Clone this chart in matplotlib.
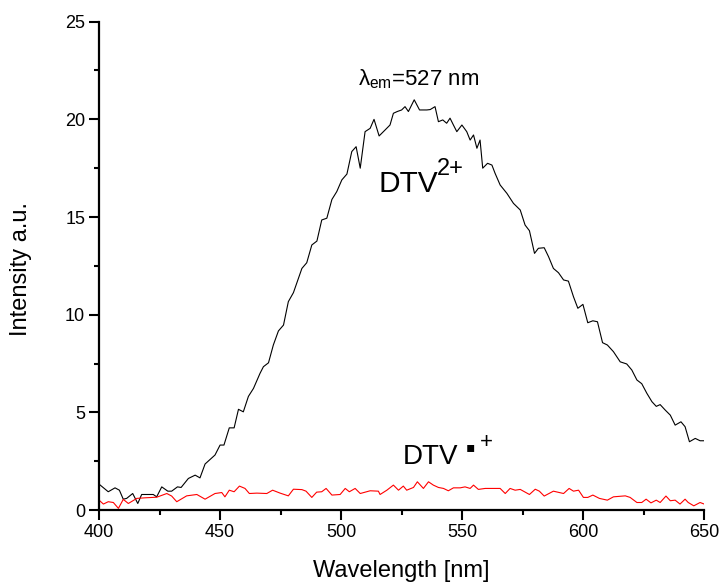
import matplotlib
matplotlib.use("Agg")
import matplotlib.pyplot as plt
from matplotlib.ticker import MultipleLocator

plt.rcParams['font.family'] = ['Liberation Sans', 'DejaVu Sans']
plt.rcParams['mathtext.fontset'] = 'custom'
plt.rcParams['mathtext.rm'] = 'Liberation Sans'
plt.rcParams['mathtext.it'] = 'Liberation Sans:italic'

# DTV2+ emission spectrum (black)
wl_dication = [400, 403.8, 406.6, 408.4, 410, 411.4, 413.9, 416, 417.6, 422.4, 423.8, 425.9,
               428.4, 430, 432.4, 433.9, 436.9, 439.7, 441.7, 443.8, 447.9, 450, 451.6, 453.8,
               455.8, 457.6, 459.6, 461.7, 463.8, 466.5, 467.9, 470, 472, 474.1, 476.2, 478.2,
               480.3, 483.8, 485.8, 487.9, 490, 492, 494.1, 496.2, 498.2, 500.3, 502.4, 504.4,
               506.2, 507.9, 509.9, 512, 513.6, 515.7, 518.2, 520.2, 521.6, 523.2, 525, 526.4,
               527.8, 530.2, 532.4, 535.4, 536.8, 538.8, 540.2, 542, 543.6, 545, 546.4, 547.8,
               549.9, 551.9, 553.3, 554.7, 556.1, 557.4, 558.5, 560.5, 562.3, 563.6, 565.7,
               568.5, 571.2, 574, 576, 577.8, 579.9, 581.5, 583.9, 585.7, 587.7, 589.8, 591.9,
               593.9, 596, 597.8, 599.9, 601.9, 604, 605.9, 608, 610, 612.5, 615.3, 618, 620.1,
               622.2, 624.2, 626.3, 628.4, 630.2, 631.8, 633.9, 636, 638, 640.4, 642.1, 643.9,
               646.3, 648.3, 650]
int_dication = [1.33, 0.94, 1.14, 1.02, 0.56, 0.60, 0.85, 0.34, 0.80, 0.80, 0.68, 1.19,
                0.97, 0.97, 1.19, 1.16, 1.62, 1.79, 1.65, 2.36, 2.82, 3.33, 3.33, 4.21,
                4.21, 5.16, 5.03, 5.82, 6.23, 7.00, 7.34, 7.54, 8.45, 9.17, 9.47, 10.67,
                11.13, 12.37, 12.66, 13.57, 13.77, 14.85, 14.94, 15.90, 16.30, 16.90, 17.20, 18.35,
                18.60, 17.50, 19.37, 19.54, 20.00, 19.15, 19.46, 19.71, 20.31, 20.40, 20.48, 20.65,
                20.40, 21.00, 20.48, 20.48, 20.50, 20.65, 19.88, 19.97, 19.80, 20.06, 19.71, 19.37,
                19.71, 19.37, 18.94, 19.20, 18.52, 18.94, 17.50, 17.75, 17.66, 17.24, 16.64,
                16.21, 15.70, 15.36, 14.59, 14.30, 13.14, 13.40, 13.43, 12.97, 12.37, 12.15, 11.78,
                11.72, 10.92, 10.33, 10.53, 9.59, 9.69, 9.64, 8.57, 8.45, 8.11, 7.59, 7.48, 7.17,
                6.66, 6.47, 5.98, 5.55, 5.31, 5.40, 5.12, 4.86, 4.35, 4.52, 4.27, 3.50,
                3.67, 3.55, 3.55]

# DTV radical cation spectrum (red)
wl_radical = [400, 401.8, 403.8, 405.9, 408, 410, 412.1, 415.6, 419, 423.8, 428, 430, 432.1,
              436.2, 440.4, 443.8, 447.9, 450.7, 452, 453.8, 455.8, 458, 460.3, 462.1, 465.2,
              469.3, 471.7, 474.8, 478.2, 480.3, 483.8, 485.5, 487.9, 489.9, 492, 493.8, 496.2,
              499.6, 501.7, 503.4, 505.8, 507.9, 512, 515.4, 516.1, 518.9, 521.6, 523.7, 525.7,
              527.1, 529.9, 531.5, 534, 536.1, 538.1, 540.2, 542.3, 544.3, 546.4, 549.2, 551.2,
              553.3, 554.7, 556.7, 559.5, 562.3, 565.7, 567.8, 569.8, 571.9, 574, 577.8, 580.2,
              581.9, 583.9, 587.7, 591.9, 594.2, 596, 598.1, 600.1, 601.9, 604, 606.7, 610,
              612.5, 617.4, 619.4, 622.2, 624.2, 626, 628, 630.2, 631.8, 634.2, 636, 638, 640,
              642.1, 643.4, 645.7, 648.3, 650]
int_radical = [0.51, 0.31, 0.43, 0.39, 0.09, 0.55, 0.34, 0.60, 0.63, 0.66, 0.85, 0.72, 0.43,
               0.73, 0.80, 0.56, 0.85, 0.90, 0.68, 1.02, 0.94, 1.23, 1.11, 0.85, 0.87,
               0.85, 1.02, 0.87, 0.73, 1.07, 1.05, 0.97, 0.65, 0.92, 0.94, 1.11, 0.77,
               0.80, 1.11, 0.94, 1.11, 0.85, 0.99, 0.97, 0.80, 1.02, 1.28, 1.02, 1.23,
               1.02, 1.16, 1.45, 1.11, 1.45, 1.28, 1.16, 1.11, 0.99, 1.14, 1.14, 1.19,
               1.11, 1.28, 1.06, 1.11, 1.11, 1.11, 0.85, 1.11, 1.02, 1.06, 0.80, 1.07,
               0.97, 0.72, 0.97, 0.85, 1.11, 0.97, 1.02, 0.65, 0.65, 0.77, 0.60, 0.51,
               0.68, 0.73, 0.65, 0.39, 0.39, 0.56, 0.37, 0.51, 0.39, 0.72, 0.48, 0.51, 0.31,
               0.56, 0.39, 0.22, 0.39, 0.31]

x_label = "Wavelength [nm]"
y_label = "Intensity a.u."

fig = plt.figure(figsize=(7.23, 5.85), dpi=100)
ax = fig.add_axes([0.137, 0.128, 0.837, 0.835])

ax.plot(wl_dication, int_dication, color='black', lw=0.8)
ax.plot(wl_radical, int_radical, color='#ff0000', lw=0.8)

ax.set_xlim(400, 650)
ax.set_ylim(0, 25)
ax.xaxis.set_major_locator(MultipleLocator(50))
ax.xaxis.set_minor_locator(MultipleLocator(25))
ax.yaxis.set_major_locator(MultipleLocator(5))
ax.yaxis.set_minor_locator(MultipleLocator(2.5))

for s in ['top', 'right']:
    ax.spines[s].set_visible(False)
for s in ['left', 'bottom']:
    ax.spines[s].set_linewidth(1.6)

ax.tick_params(which='major', direction='out', length=7, width=1.5, labelsize=13, pad=3)
ax.tick_params(which='minor', direction='out', length=3.5, width=1.5)

ax.set_xlabel(x_label, fontsize=17)
ax.set_ylabel(y_label, fontsize=17)
ax.xaxis.set_label_coords(0.5, -0.102)
ax.yaxis.set_label_coords(-0.111, 0.494)

ax.text(507.0, 21.76, r"$\mathregular{λ_{em}}$=527 nm", fontsize=16, ha='left', va='baseline')
ax.text(515.3, 16.28, "DTV", fontsize=21.5, ha='left', va='baseline')
ax.text(539.7, 17.15, "2+", fontsize=17, ha='left', va='baseline')
ax.text(525.6, 2.36, "DTV", fontsize=20, ha='left', va='baseline')
ax.text(553.6, 3.24, "\u25aa", fontsize=10, ha='center', va='center', family=['DejaVu Sans'])
ax.text(560.0, 3.46, "+", fontsize=16, ha='center', va='center')

fig.savefig("out.png", dpi=100)
